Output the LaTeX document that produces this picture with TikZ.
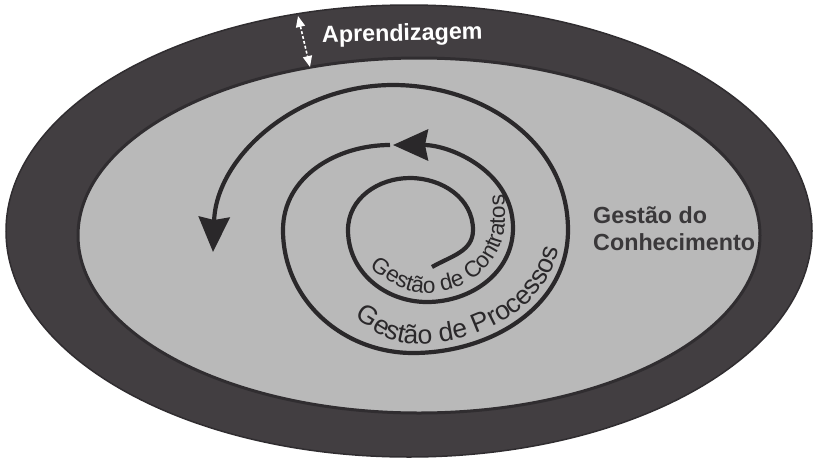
\documentclass[tikz,border=0pt]{standalone}
\usepackage{fontspec}
\setmainfont{Liberation Sans}
\usetikzlibrary{arrows.meta,decorations.text}

\definecolor{band}{RGB}{66,62,65}
\definecolor{bandedge}{RGB}{48,45,48}
\definecolor{field}{RGB}{185,185,185}
\definecolor{ink}{RGB}{42,40,42}
\definecolor{labelgray}{RGB}{58,56,58}

\begin{document}
\begin{tikzpicture}[x=1pt,y=1pt,
  spiralline/.style={ink, line width=4.2pt},
  bigtip/.style={-{Stealth[length=35pt,width=31pt,inset=3pt]}},
  curvedlabel/.style={decorate, decoration={text along path, text color=ink, text align=left}},
  whitetip/.style={{Triangle[length=11pt,width=9pt]}-{Triangle[length=11pt,width=9pt]}},
  boldlabel/.style={font=\bfseries\fontsize{23.3}{24}\selectfont, inner sep=0pt}]

\useasboundingbox (0,0) rectangle (816,-461);
\fill[white] (0,0) rectangle (816,-461);

% outer band and inner field
\filldraw[fill=band, draw=bandedge, line width=1.5pt] (409,-231) ellipse [x radius=403, y radius=226];
\filldraw[fill=field, draw=bandedge, line width=3pt] (419,-235.5) ellipse [x radius=341, y radius=177.5];

% width marker of the band
\coordinate (wtop) at (298,-16);
\coordinate (wbot) at (310,-67);
\draw[white, line width=1.6pt, dash pattern=on 3pt off 2pt, whitetip] (wtop) -- (wbot);

\node[boldlabel, white, rotate=1.2, anchor=base west] (aprend) at (322,-42.5) {Aprendizagem};

\node[boldlabel, labelgray, anchor=base west] (gdc1) at (593,-223) {Gestão do};
\node[boldlabel, labelgray, anchor=base west] (gdc2) at (593,-250) {Conhecimento};

% spiral, inner part up to the middle arrowhead
\coordinate (s0) at (432,-267);
\coordinate (s1) at (473,-230);
\coordinate (s2) at (410,-178);
\coordinate (s3) at (348,-230);
\coordinate (s4) at (427,-302);
\coordinate (s5) at (513,-228);
\coordinate (s6) at (393,-145);
\draw[spiralline, bigtip] (s0) to[out=30,in=270] (s1) to[out=90,in=0] (s2)
  to[out=180,in=90] (s3) to[out=270,in=180] (s4) to[out=0,in=270] (s5)
  to[out=90,in=0] (s6);

% spiral, outer part
\coordinate (t0) at (390,-145);
\coordinate (t1) at (283,-230);
\coordinate (t2) at (413,-353);
\coordinate (t3) at (568,-230);
\coordinate (t4) at (393,-85);
\coordinate (t5) at (213,-252);
\draw[spiralline, bigtip] (t0) to[out=180,in=90] (t1) to[out=270,in=180] (t2)
  to[out=0,in=270] (t3) to[out=90,in=0] (t4) to[out=180,in=88] (t5);

% labels set along the turns
\path[curvedlabel, decoration={text={|\fontsize{22.6}{22.6}\selectfont|Gestão de Contratos}}]
  (370,-267) to[out=-38,in=180] (427,-293) to[out=0,in=270] (505,-220) to[out=90,in=-80] (498,-150);
\path[curvedlabel, decoration={text={|\fontsize{26.5}{26.5}\selectfont|Gestão de Processos}}]
  (354,-318) to[out=-30,in=180] (413,-344) to[out=0,in=270] (560,-230) to[out=90,in=-60] (540,-150);

\end{tikzpicture}
\end{document}
